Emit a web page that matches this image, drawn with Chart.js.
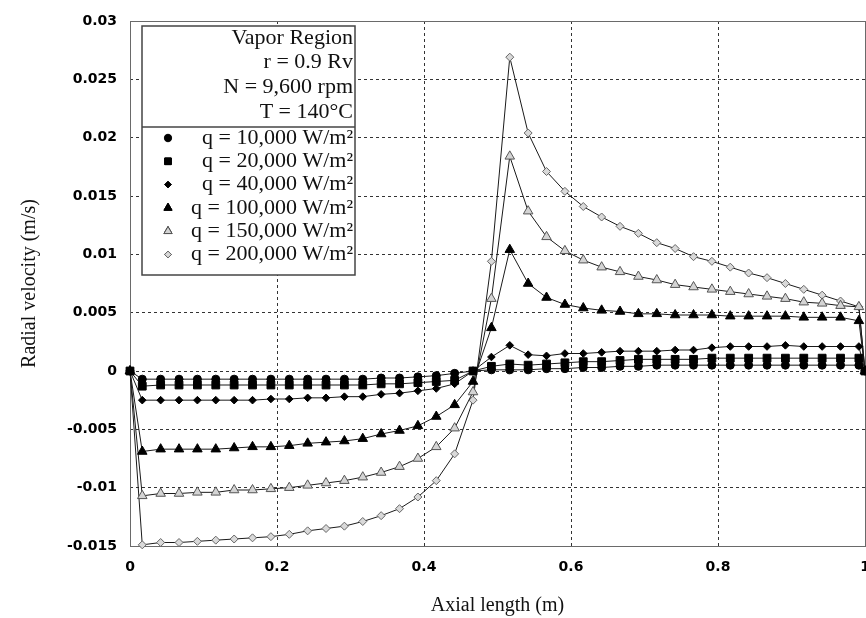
<!DOCTYPE html>
<html>
<head>
<meta charset="utf-8">
<style>
  html, body { margin: 0; padding: 0; background: #fff; }
</style>
</head>
<body>
<canvas id="myChart" width="866" height="618"></canvas>
<script src="https://cdn.jsdelivr.net/npm/chart.js@4.4.1/dist/chart.umd.min.js"></script>
<script>
// Axial positions of the nodes (m)
const axialLength = [0, 0.0167, 0.0417, 0.0667, 0.0917, 0.1167, 0.1417, 0.1667, 0.1917, 0.2167,
    0.2417, 0.2667, 0.2917, 0.3167, 0.3417, 0.3667, 0.3917, 0.4167, 0.4417, 0.4667,
    0.4917, 0.5167, 0.5417, 0.5667, 0.5917, 0.6167, 0.6417, 0.6667, 0.6917, 0.7167,
    0.7417, 0.7667, 0.7917, 0.8167, 0.8417, 0.8667, 0.8917, 0.9167, 0.9417, 0.9667,
    0.9917, 1];

// Radial velocity (m/s) for each heat flux
const q10k = [0, -0.0007, -0.0007, -0.0007, -0.0007, -0.0007, -0.0007, -0.0007, -0.0007, -0.0007,
    -0.0007, -0.0007, -0.0007, -0.0007, -0.0006, -0.0006, -0.0005, -0.0004, -0.0002, 0,
    0.0001, 0.0001, 0.0001, 0.0002, 0.0002, 0.0003, 0.0003, 0.0004, 0.0004, 0.0005,
    0.0005, 0.0005, 0.0005, 0.0005, 0.0005, 0.0005, 0.0005, 0.0005, 0.0005, 0.0005,
    0.0005, 0];
const q20k = [0, -0.0013, -0.0012, -0.0012, -0.0012, -0.0012, -0.0012, -0.0012, -0.0012, -0.0012,
    -0.0012, -0.0012, -0.0012, -0.0012, -0.0011, -0.0011, -0.0010, -0.0009, -0.0008, 0,
    0.0004, 0.0006, 0.0005, 0.0006, 0.0007, 0.0008, 0.0008, 0.0009, 0.0010, 0.0010,
    0.0010, 0.0010, 0.0011, 0.0011, 0.0011, 0.0011, 0.0011, 0.0011, 0.0011, 0.0011,
    0.0011, 0];
const q40k = [0, -0.0025, -0.0025, -0.0025, -0.0025, -0.0025, -0.0025, -0.0025, -0.0024, -0.0024,
    -0.0023, -0.0023, -0.0022, -0.0022, -0.0020, -0.0019, -0.0017, -0.0015, -0.0011, 0,
    0.0012, 0.0022, 0.0014, 0.0013, 0.0015, 0.0015, 0.0016, 0.0017, 0.0017, 0.0017,
    0.0018, 0.0018, 0.0020, 0.0021, 0.0021, 0.0021, 0.0022, 0.0021, 0.0021, 0.0021,
    0.0021, 0];
const q100k = [0, -0.0069, -0.0067, -0.0067, -0.0067, -0.0067, -0.0066, -0.0065, -0.0065, -0.0064,
    -0.0062, -0.0061, -0.0060, -0.0058, -0.0054, -0.0051, -0.0047, -0.0039, -0.0029, -0.0009,
    0.0037, 0.0104, 0.0075, 0.0063, 0.0057, 0.0054, 0.0052, 0.0051, 0.0049, 0.0049,
    0.0048, 0.0048, 0.0048, 0.0047, 0.0047, 0.0047, 0.0047, 0.0046, 0.0046, 0.0046,
    0.0043, 0];
const q150k = [0, -0.0107, -0.0105, -0.0105, -0.0104, -0.0104, -0.0102, -0.0102, -0.0101, -0.0100,
    -0.0098, -0.0096, -0.0094, -0.0091, -0.0087, -0.0082, -0.0075, -0.0065, -0.0049, -0.0018,
    0.0062, 0.0184, 0.0137, 0.0115, 0.0103, 0.0095, 0.0089, 0.0085, 0.0081, 0.0078,
    0.0074, 0.0072, 0.0070, 0.0068, 0.0066, 0.0064, 0.0062, 0.0059, 0.0058, 0.0056,
    0.0055, 0];
const q200k = [0, -0.0149, -0.0147, -0.0147, -0.0146, -0.0145, -0.0144, -0.0143, -0.0142, -0.0140,
    -0.0137, -0.0135, -0.0133, -0.0129, -0.0124, -0.0118, -0.0108, -0.0094, -0.0071, -0.0025,
    0.0094, 0.0269, 0.0204, 0.0171, 0.0154, 0.0141, 0.0132, 0.0124, 0.0118, 0.0110,
    0.0105, 0.0098, 0.0094, 0.0089, 0.0084, 0.0080, 0.0075, 0.0070, 0.0065, 0.0060,
    0.0055, 0];

const seriesLabels = ['q = 10,000 W/m²', 'q = 20,000 W/m²', 'q = 40,000 W/m²',
    'q = 100,000 W/m²', 'q = 150,000 W/m²', 'q = 200,000 W/m²'];
const headerLines = ['Vapor Region', 'r = 0.9 Rv', 'N = 9,600 rpm', 'T = 140°C'];

const xTicks = [0, 0.2, 0.4, 0.6, 0.8, 1];

function toPoints(values) {
    return values.map((v, i) => ({ x: axialLength[i], y: v }));
}

// marker look per series
const markers = [
    { style: 'circle', radius: 4, fill: '#000', border: '#000' },
    { style: 'rect', radius: 5.5, fill: '#000', border: '#000' },
    { style: 'rectRot', radius: 3.8, fill: '#000', border: '#000' },
    { style: 'triangle', radius: 5.5, fill: '#000', border: '#000' },
    { style: 'triangle', radius: 5.5, fill: '#d4d4d4', border: '#555' },
    { style: 'rectRot', radius: 4, fill: '#d9d9d9', border: '#666' }
];

const allSeries = [q10k, q20k, q40k, q100k, q150k, q200k];

const datasets = allSeries.map((vals, i) => ({
    label: seriesLabels[i],
    data: toPoints(vals),
    borderColor: '#1a1a1a',
    borderWidth: 1,
    pointStyle: markers[i].style,
    pointRadius: markers[i].radius,
    pointBackgroundColor: markers[i].fill,
    pointBorderColor: markers[i].border,
    pointBorderWidth: 1,
    tension: 0,
    clip: false
}));

// solid frame round the plot area
const plotFrame = {
    id: 'plotFrame',
    beforeDatasetsDraw(chart) {
        const { ctx, chartArea: a } = chart;
        ctx.save();
        ctx.strokeStyle = '#6a6a6a';
        ctx.lineWidth = 1;
        ctx.strokeRect(a.left + 0.5, a.top + 0.5, a.right - a.left, a.bottom - a.top);
        ctx.restore();
    }
};

// x tick labels drawn by hand so the last one can sit on the canvas edge
const xTickLabels = {
    id: 'xTickLabels',
    afterDraw(chart) {
        const { ctx, chartArea: a } = chart;
        const xScale = chart.scales.x;
        ctx.save();
        ctx.font = 'bold 14px "DejaVu Sans"';
        ctx.fillStyle = '#000';
        ctx.textAlign = 'center';
        ctx.textBaseline = 'middle';
        xTicks.forEach(v => {
            ctx.fillText(String(v), xScale.getPixelForValue(v), a.bottom + 21);
        });
        ctx.restore();
    }
};

// boxed legend with the run conditions on top
const boxLegend = {
    id: 'boxLegend',
    afterDatasetsDraw(chart) {
        const { ctx, chartArea: a } = chart;
        const left = a.left + 12, top = a.top + 5;
        const w = 213, h = 249;
        const textRight = left + w - 2;
        ctx.save();
        ctx.fillStyle = '#fff';
        ctx.fillRect(left, top, w, h);
        ctx.strokeStyle = '#444';
        ctx.lineWidth = 1.5;
        ctx.strokeRect(left, top, w, h);
        ctx.beginPath();
        ctx.moveTo(left, top + 101);
        ctx.lineTo(left + w, top + 101);
        ctx.stroke();

        ctx.font = '22px "Liberation Serif"';
        ctx.fillStyle = '#111';
        ctx.textAlign = 'right';
        ctx.textBaseline = 'middle';
        headerLines.forEach((t, i) => {
            ctx.fillText(t, textRight, top + 12 + i * 24.6);
        });
        chart.data.datasets.forEach((ds, i) => {
            const y = top + 112 + i * 23.3;
            ctx.fillStyle = '#111';
            ctx.fillText(ds.label, textRight, y);
            Chart.helpers.drawPoint(ctx, {
                pointStyle: markers[i].style,
                radius: markers[i].radius * 0.85,
                borderWidth: 1,
                rotation: 0
            }, left + 26, y);
            ctx.fillStyle = markers[i].fill;
            ctx.strokeStyle = markers[i].border;
            ctx.lineWidth = 1;
            ctx.fill();
            ctx.stroke();
        });
        ctx.restore();
    }
};

const ctx = document.getElementById('myChart').getContext('2d');
new Chart(ctx, {
    type: 'line',
    data: { datasets: datasets },
    options: {
        responsive: false,
        animation: false,
        devicePixelRatio: 1,
        layout: { autoPadding: false, padding: { top: 21, right: 1, bottom: 0, left: 0 } },
        plugins: {
            legend: { display: false },
            tooltip: { enabled: false }
        },
        scales: {
            x: {
                type: 'linear',
                min: 0,
                max: 1,
                afterBuildTicks: (scale) => { scale.ticks = xTicks.map(v => ({ value: v })); },
                afterFit: (scale) => {
                    scale.height = 72;
                    scale.paddingLeft = 0;
                    scale.paddingRight = 0;
                },
                grid: { color: '#333', lineWidth: 1, drawTicks: false },
                border: { display: false, dash: [3, 3] },
                ticks: { display: false },
                title: {
                    display: true,
                    text: 'Axial length (m)',
                    color: '#111',
                    font: { family: 'Liberation Serif', size: 20 },
                    padding: { top: 0, bottom: 0 }
                }
            },
            y: {
                type: 'linear',
                min: -0.015,
                max: 0.03,
                afterFit: (scale) => {
                    scale.width = 130;
                    scale.paddingTop = 0;
                    scale.paddingBottom = 0;
                },
                grid: { color: '#333', lineWidth: 1, drawTicks: false },
                border: { display: false, dash: [3, 3] },
                ticks: {
                    stepSize: 0.005,
                    padding: 13,
                    color: '#000',
                    font: { family: 'DejaVu Sans', size: 14, weight: 'bold' },
                    callback: (v) => String(Number(v.toFixed(4)))
                },
                title: {
                    display: true,
                    text: 'Radial velocity (m/s)',
                    color: '#111',
                    font: { family: 'Liberation Serif', size: 20 },
                    padding: { top: 18, bottom: 0 }
                }
            }
        }
    },
    plugins: [plotFrame, boxLegend, xTickLabels]
});
</script>
</body>
</html>
